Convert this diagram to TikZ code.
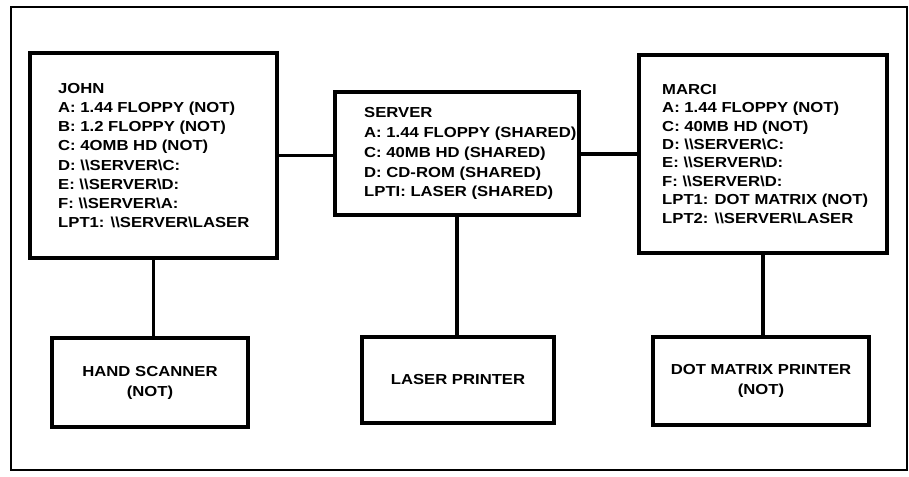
\documentclass[tikz,border=0pt]{standalone}
\usepackage{fontspec}
\setmainfont{Liberation Sans}[FakeStretch=1.15]
\newcommand\BSL{\textbackslash}
\begin{document}
\begin{tikzpicture}[x=1pt,y=-1pt,
  box/.style={draw, line width=3.2pt, rectangle, inner sep=0pt, align=center,
    font=\fontsize{14.5}{20}\selectfont\bfseries},
  listtext/.style={anchor=north west, inner sep=0pt, align=left},
  link/.style={line width=3.2pt}]
\useasboundingbox (0,0) rectangle (909,476);
\draw[line width=1.4pt] (11,7) rectangle (907,470);
% computer boxes
\node[box, minimum width=247pt, minimum height=205pt] (john) at (153.5,155.5) {};
\node[box, minimum width=244pt, minimum height=123pt] (server) at (457,153.5) {};
\node[box, minimum width=248pt, minimum height=198pt] (marci) at (763,154) {};
% peripherals
\node[box, minimum width=196pt, minimum height=89pt] (hand) at (150,382.5) {HAND SCANNER\\(NOT)};
\node[box, minimum width=192pt, minimum height=86pt] (laser) at (458,380) {LASER PRINTER};
\node[box, minimum width=216pt, minimum height=88pt] (dot) at (761,381) {DOT MATRIX PRINTER\\(NOT)};
% texts
\node[listtext, font=\fontsize{14.5}{19.2}\selectfont\bfseries] (jtext) at (58,83)
  {JOHN\\A: 1.44 FLOPPY (NOT)\\B: 1.2 FLOPPY (NOT)\\C: 4OMB HD (NOT)\\D: \BSL\BSL SERVER\BSL C:\\E: \BSL\BSL SERVER\BSL D:\\F: \BSL\BSL SERVER\BSL A:\\LPT1: \BSL\BSL SERVER\BSL LASER};
\node[listtext, font=\fontsize{14.5}{19.9}\selectfont\bfseries] (stext) at (364,107)
  {SERVER\\A: 1.44 FLOPPY (SHARED)\\C: 40MB HD (SHARED)\\D: CD-ROM (SHARED)\\LPTI: LASER (SHARED)};
\node[listtext, font=\fontsize{14.5}{18.4}\selectfont\bfseries] (mtext) at (662,84)
  {MARCI\\A: 1.44 FLOPPY (NOT)\\C: 40MB HD (NOT)\\D: \BSL\BSL SERVER\BSL C:\\E: \BSL\BSL SERVER\BSL D:\\F: \BSL\BSL SERVER\BSL D:\\LPT1: DOT MATRIX (NOT)\\LPT2: \BSL\BSL SERVER\BSL LASER};
% connectors
\draw[link] (john.east) -- (john.east -| server.west);
\draw[link] (marci.west) -- (marci.west -| server.east);
\draw[link] (john.south) -- (john.south |- hand.north);
\draw[link] (server.south) -- (server.south |- laser.north);
\draw[link] (marci.south) -- (marci.south |- dot.north);
\end{tikzpicture}
\end{document}
